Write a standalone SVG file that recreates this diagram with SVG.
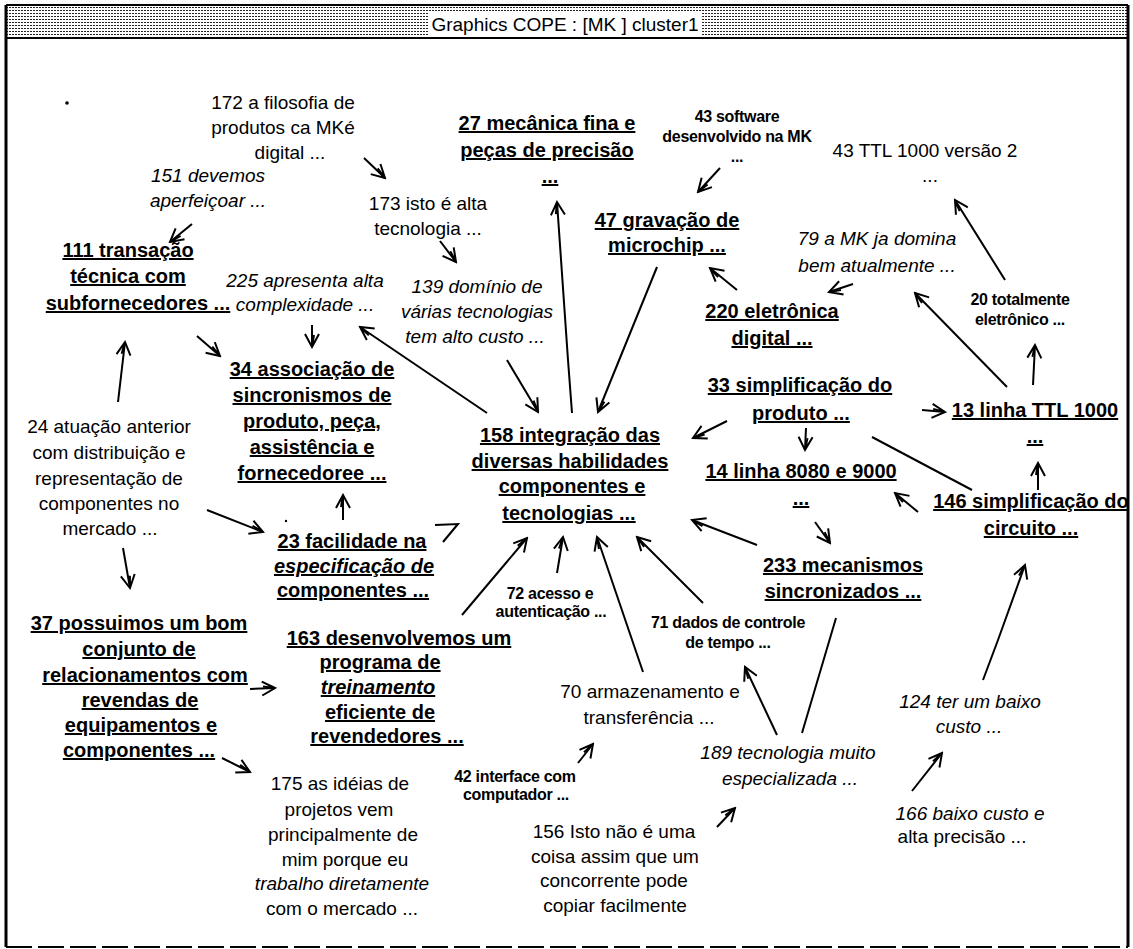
<svg xmlns="http://www.w3.org/2000/svg" width="1133" height="949" viewBox="0 0 1133 949">
<defs>
<pattern id="dots" x="0" y="0" width="3" height="3" patternUnits="userSpaceOnUse"><rect x="0" y="1" width="2" height="1" fill="#222"/></pattern>
<marker id="ah" viewBox="-15 -9 17 18" refX="0" refY="0" markerWidth="17" markerHeight="18" markerUnits="userSpaceOnUse" orient="auto"><path d="M-13,-7 L0,0 L-13,7 M-12,-2 L0,0" fill="none" stroke="#000" stroke-width="2"/></marker>
</defs>
<style>
.t{font-family:"Liberation Sans",Arial,sans-serif;font-size:19px;fill:#000;text-anchor:middle}
.b{font-weight:bold;font-size:20px;text-decoration:underline}
.i{font-style:italic}
.s{font-size:16px;font-weight:bold;letter-spacing:-0.3px}
.c line,.c polyline,.c path{stroke:#000;stroke-width:2;fill:none}
.a{marker-end:url(#ah)}
</style>
<rect x="0" y="0" width="1133" height="949" fill="#fff"/>
<g id="frame">
<rect x="6" y="6" width="1122" height="32" fill="url(#dots)"/>
<rect x="428" y="13" width="274" height="22" fill="#fff"/>
<text class="t" x="565" y="31">Graphics COPE : [MK ] cluster1</text>
<line x1="6" y1="5" x2="1128" y2="5" stroke="#000" stroke-width="2"/>
<line x1="6" y1="38" x2="1128" y2="38" stroke="#000" stroke-width="2"/>
<line x1="6" y1="5" x2="6" y2="947" stroke="#000" stroke-width="3"/>
<line x1="1128" y1="5" x2="1128" y2="947" stroke="#000" stroke-width="3"/>
<line x1="6" y1="947" x2="1128" y2="947" stroke="#000" stroke-width="2" stroke-dasharray="26 6"/>
</g>
<g id="connectors" class="c">
<line class="a" x1="364" y1="158" x2="385" y2="178"/>
<line class="a" x1="192" y1="224" x2="170" y2="242"/>
<line class="a" x1="440" y1="241" x2="456" y2="262"/>
<line class="a" x1="720" y1="168" x2="698" y2="192"/>
<polyline class="a" points="572,413 568,360 557,202"/>
<line class="a" x1="657" y1="267" x2="598" y2="412"/>
<line class="a" x1="737" y1="290" x2="710" y2="268"/>
<line class="a" x1="853" y1="284" x2="829" y2="292"/>
<line class="a" x1="1005" y1="280" x2="955" y2="200"/>
<line class="a" x1="1007" y1="387" x2="915" y2="293"/>
<line class="a" x1="1033" y1="385" x2="1035" y2="345"/>
<line class="a" x1="922" y1="410" x2="945" y2="412"/>
<line class="a" x1="1038" y1="490" x2="1038" y2="463"/>
<line x1="872" y1="437" x2="972" y2="490"/>
<line class="a" x1="918" y1="512" x2="895" y2="493"/>
<line class="a" x1="806" y1="428" x2="805" y2="450"/>
<line class="a" x1="815" y1="522" x2="830" y2="543"/>
<line class="a" x1="727" y1="421" x2="693" y2="438"/>
<line class="a" x1="757" y1="545" x2="692" y2="520"/>
<polyline class="a" points="983,680 998,640 1025,565"/>
<line class="a" x1="912" y1="791" x2="942" y2="753"/>
<line x1="802" y1="733" x2="836" y2="618"/>
<line class="a" x1="777" y1="735" x2="745" y2="667"/>
<line class="a" x1="717" y1="827" x2="735" y2="808"/>
<line class="a" x1="578" y1="763" x2="593" y2="744"/>
<line class="a" x1="643" y1="672" x2="597" y2="537"/>
<line class="a" x1="703" y1="603" x2="637" y2="537"/>
<line class="a" x1="557" y1="573" x2="563" y2="537"/>
<line class="a" x1="462" y1="615" x2="527" y2="538"/>
<line class="a" x1="507" y1="360" x2="538" y2="412"/>
<line class="a" x1="487" y1="413" x2="360" y2="327"/>
<line class="a" x1="312" y1="325" x2="312" y2="347"/>
<line class="a" x1="197" y1="336" x2="220" y2="356"/>
<line class="a" x1="118" y1="402" x2="125" y2="342"/>
<line class="a" x1="207" y1="510" x2="263" y2="532"/>
<line class="a" x1="123" y1="548" x2="130" y2="588"/>
<line class="a" x1="343" y1="520" x2="343" y2="495"/>
<polyline points="435,525 458,524 443,542"/>
<line class="a" x1="250" y1="689" x2="275" y2="688"/>
<line class="a" x1="222" y1="758" x2="250" y2="772"/>
<circle cx="67" cy="103" r="1.8" fill="#000" stroke="none"/>
<circle cx="286" cy="521" r="1.2" fill="#000" stroke="none"/>
</g>
<g id="n172"><text class="t" x="283"><tspan x="283" y="109">172 a filosofia de</tspan><tspan x="283" y="134">produtos ca MKé</tspan><tspan x="290" y="159">digital ...</tspan></text></g>
<g id="n151"><text class="t i" x="208"><tspan x="208" y="182">151 devemos</tspan><tspan x="208" y="207">aperfeiçoar ...</tspan></text></g>
<g id="n173"><text class="t" x="428"><tspan x="428" y="210">173 isto é alta</tspan><tspan x="428" y="235">tecnologia ...</tspan></text></g>
<g id="n27"><text class="t b" x="547"><tspan x="547" y="130">27 mecânica fina e</tspan><tspan x="547" y="157">peças de precisão</tspan><tspan x="550" y="183">...</tspan></text></g>
<g id="n43s"><text class="t s" x="737"><tspan x="737" y="122">43 software</tspan><tspan x="737" y="142">desenvolvido na MK</tspan><tspan x="737" y="162">...</tspan></text></g>
<g id="n43"><text class="t" x="925"><tspan x="925" y="157">43 TTL 1000 versão 2</tspan><tspan x="930" y="182">...</tspan></text></g>
<g id="n47"><text class="t b" x="667"><tspan x="667" y="227">47 gravação de</tspan><tspan x="667" y="252">microchip ...</tspan></text></g>
<g id="n79"><text class="t i" x="877"><tspan x="877" y="245">79 a MK ja domina</tspan><tspan x="877" y="272">bem atualmente ...</tspan></text></g>
<g id="n225"><text class="t i" x="305"><tspan x="305" y="287">225 apresenta alta</tspan><tspan x="305" y="311">complexidade ...</tspan></text></g>
<g id="n111"><text class="t b" x="130"><tspan x="128" y="257">111 transação</tspan><tspan x="128" y="283">técnica com</tspan><tspan x="138" y="310">subfornecedores ...</tspan></text></g>
<g id="n139"><text class="t i" x="477"><tspan x="477" y="293">139 domínio de</tspan><tspan x="477" y="318">várias tecnologias</tspan><tspan x="475" y="343">tem alto custo ...</tspan></text></g>
<g id="n220"><text class="t b" x="772"><tspan x="772" y="318">220 eletrônica</tspan><tspan x="772" y="345">digital ...</tspan></text></g>
<g id="n20"><text class="t s" x="1020"><tspan x="1020" y="305">20 totalmente</tspan><tspan x="1020" y="325">eletrônico ...</tspan></text></g>
<g id="n34"><text class="t b" x="312"><tspan x="312" y="376">34 associação de</tspan><tspan x="312" y="402">sincronismos de</tspan><tspan x="312" y="428">produto, peça,</tspan><tspan x="312" y="454">assistência e</tspan><tspan x="312" y="480">fornecedoree ...</tspan></text></g>
<g id="n33"><text class="t b" x="800"><tspan x="800" y="392">33 simplificação do</tspan><tspan x="801" y="420">produto ...</tspan></text></g>
<g id="n13"><text class="t b" x="1035"><tspan x="1035" y="417">13 linha TTL 1000</tspan><tspan x="1035" y="443">...</tspan></text></g>
<g id="n158"><text class="t b" x="570"><tspan x="570" y="442">158 integração das</tspan><tspan x="570" y="468">diversas habilidades</tspan><tspan x="572" y="493">componentes e</tspan><tspan x="569" y="520">tecnologias ...</tspan></text></g>
<g id="n14"><text class="t b" x="801"><tspan x="801" y="478">14 linha 8080 e 9000</tspan><tspan x="801" y="505">...</tspan></text></g>
<g id="n24"><text class="t" x="109"><tspan x="109" y="433">24 atuação anterior</tspan><tspan x="109" y="459">com distribuição e</tspan><tspan x="109" y="485">representação de</tspan><tspan x="109" y="510">componentes no</tspan><tspan x="110" y="535">mercado ...</tspan></text></g>
<g id="n146"><text class="t b" x="1031"><tspan x="1031" y="508">146 simplificação do</tspan><tspan x="1031" y="535">circuito ...</tspan></text></g>
<g id="n23"><text class="t b" x="352"><tspan x="352" y="548">23 facilidade na</tspan><tspan x="354" y="573" font-style="italic">especificação de</tspan><tspan x="353" y="597">componentes ...</tspan></text></g>
<g id="n233"><text class="t b" x="843"><tspan x="843" y="572">233 mecanismos</tspan><tspan x="843" y="598">sincronizados ...</tspan></text></g>
<g id="n72"><text class="t s" x="550"><tspan x="550" y="599">72 acesso e</tspan><tspan x="551" y="617">autenticação ...</tspan></text></g>
<g id="n71"><text class="t s" x="728"><tspan x="728" y="628">71 dados de controle</tspan><tspan x="728" y="648">de tempo ...</tspan></text></g>
<g id="n37"><text class="t b" x="139"><tspan x="139" y="630">37 possuimos um bom</tspan><tspan x="139" y="656">conjunto de</tspan><tspan x="145" y="682">relacionamentos com</tspan><tspan x="140" y="707">revendas de</tspan><tspan x="141" y="732">equipamentos e</tspan><tspan x="139" y="757">componentes ...</tspan></text></g>
<g id="n163"><text class="t b" x="390"><tspan x="399" y="645">163 desenvolvemos um</tspan><tspan x="380" y="669">programa de</tspan><tspan x="378" y="694" font-style="italic">treinamento</tspan><tspan x="380" y="719">eficiente de</tspan><tspan x="387" y="743">revendedores ...</tspan></text></g>
<g id="n70"><text class="t" x="650"><tspan x="650" y="698">70 armazenamento e</tspan><tspan x="649" y="724">transferência ...</tspan></text></g>
<g id="n124"><text class="t i" x="970"><tspan x="970" y="708">124 ter um baixo</tspan><tspan x="969" y="733">custo ...</tspan></text></g>
<g id="n189"><text class="t i" x="788"><tspan x="788" y="759">189 tecnologia muito</tspan><tspan x="790" y="785">especializada ...</tspan></text></g>
<g id="n42"><text class="t s" x="515"><tspan x="515" y="782">42 interface com</tspan><tspan x="516" y="800">computador ...</tspan></text></g>
<g id="n175"><text class="t" x="342"><tspan x="340" y="790">175 as idéias de</tspan><tspan x="339" y="816">projetos vem</tspan><tspan x="343" y="841">principalmente de</tspan><tspan x="345" y="866">mim porque eu</tspan><tspan x="342" y="890" font-style="italic">trabalho diretamente</tspan><tspan x="342" y="915">com o mercado ...</tspan></text></g>
<g id="n166"><text class="t" x="968"><tspan x="970" y="820" font-style="italic">166 baixo custo e</tspan><tspan x="962" y="843">alta precisão ...</tspan></text></g>
<g id="n156"><text class="t" x="614"><tspan x="614" y="838">156 Isto não é uma</tspan><tspan x="615" y="863">coisa assim que um</tspan><tspan x="614" y="887">concorrente pode</tspan><tspan x="615" y="912">copiar facilmente</tspan></text></g>
</svg>
